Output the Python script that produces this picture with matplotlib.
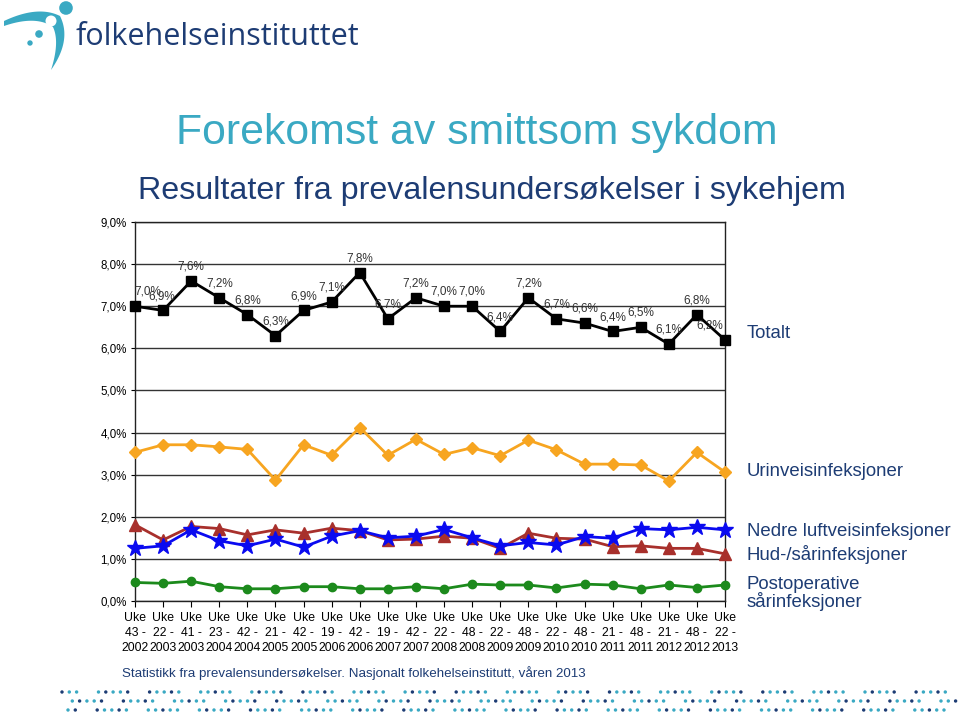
import numpy as np
import matplotlib.pyplot as plt
from matplotlib.patches import Circle, Polygon

plt.rcParams['font.family'] = ['Liberation Sans', 'DejaVu Sans']

weeks = ["43", "22", "41", "23", "42", "21", "42", "19", "42", "19", "42",
         "22", "48", "22", "48", "22", "48", "21", "48", "21", "48", "22"]
years = ["2002", "2003", "2003", "2004", "2004", "2005", "2005", "2006", "2006", "2007", "2007",
         "2008", "2008", "2009", "2009", "2010", "2010", "2011", "2011", "2012", "2012", "2013"]
tick_labels = [f"Uke\n{w} -\n{y}" for w, y in zip(weeks, years)]

totalt = [7.0, 6.9, 7.6, 7.2, 6.8, 6.3, 6.9, 7.1, 7.8, 6.7, 7.2,
          7.0, 7.0, 6.4, 7.2, 6.7, 6.6, 6.4, 6.5, 6.1, 6.8, 6.2]
urinvei = [3.53, 3.71, 3.71, 3.66, 3.60, 2.87, 3.71, 3.46, 4.12, 3.46, 3.84,
           3.48, 3.64, 3.45, 3.82, 3.59, 3.25, 3.25, 3.23, 2.85, 3.53, 3.06]
nedre_luftvei = [1.25, 1.31, 1.69, 1.43, 1.31, 1.47, 1.28, 1.54, 1.67, 1.50, 1.54,
                 1.70, 1.50, 1.31, 1.39, 1.33, 1.53, 1.49, 1.72, 1.69, 1.75, 1.69]
hud_saar = [1.81, 1.45, 1.77, 1.72, 1.57, 1.69, 1.61, 1.73, 1.67, 1.45, 1.47,
            1.54, 1.49, 1.25, 1.61, 1.49, 1.47, 1.29, 1.31, 1.25, 1.25, 1.12]
postop = [0.44, 0.42, 0.47, 0.34, 0.29, 0.29, 0.34, 0.34, 0.29, 0.29, 0.34,
          0.29, 0.40, 0.38, 0.38, 0.31, 0.40, 0.38, 0.29, 0.38, 0.32, 0.38]

navy = '#1d3c74'
teal = '#3aa9c3'

fig = plt.figure(figsize=(9.6, 7.14), dpi=100)

# decoration layer in pixel coordinates
deco = fig.add_axes([0, 0, 1, 1])
deco.set_xlim(0, 960)
deco.set_ylim(714, 0)
deco.axis('off')

# logo swoosh
t = np.linspace(0, 1, 40)
def bez(p0, p1, p2):
    p0, p1, p2 = map(np.array, (p0, p1, p2))
    return ((1 - t)[:, None] ** 2 * p0 + 2 * ((1 - t) * t)[:, None] * p1 + (t ** 2)[:, None] * p2)
outer = np.vstack([bez((4, 21), (38, 5), (60, 16)), bez((60, 16), (72, 40), (51, 70))])
inner = np.vstack([bez((51, 70), (60, 42), (53, 27)), bez((53, 27), (36, 15), (4, 26))])
deco.add_patch(Polygon(np.vstack([outer, inner]), closed=True, color=teal, lw=0))
deco.add_patch(Circle((51, 21), 5.5, color='white', lw=0))
deco.add_patch(Circle((66, 8), 6.8, color=teal, lw=0))
deco.add_patch(Circle((39, 34), 3.8, color=teal, lw=0))
deco.add_patch(Circle((30, 43), 2.7, color=teal, lw=0))
deco.text(76, 37, "folkehelseinstituttet", fontsize=22, color=navy, va='center', ha='left',
          family=['Open Sans', 'DejaVu Sans'])

# dotted band at the bottom
for r, yy in enumerate([692, 701, 710]):
    xs = np.arange(62 + r * 3, 960, 7.3)
    for i, xx in enumerate(xs):
        if (i * 3 + r * 5) % 7 in (2, 5):
            continue
        c = teal if (i + r) % 3 else navy
        deco.add_patch(Circle((xx, yy), 1.7, color=c, lw=0))

fig.text(176 / 960, 1 - 133 / 714, "Forekomst av smittsom sykdom", fontsize=30.8,
         color=teal, va='center', ha='left')
fig.text(138 / 960, 1 - 191 / 714, "Resultater fra prevalensundersøkelser i sykehjem",
         fontsize=23.2, color=navy, va='center', ha='left')
fig.text(122 / 960, 1 - 673 / 714,
         "Statistikk fra prevalensundersøkelser. Nasjonalt folkehelseinstitutt, våren 2013",
         fontsize=9.6, color=navy, va='center', ha='left')

ax = fig.add_axes([135 / 960, 1 - 601 / 714, 590 / 960, 379 / 714])
x = np.arange(len(totalt))
kw = dict(lw=2, clip_on=False, zorder=3)
ax.plot(x, totalt, color='black', marker='s', ms=7, **kw)
ax.plot(x, urinvei, color='#f7a520', marker='D', ms=6, **kw)
ax.plot(x, hud_saar, color='#a8302c', marker='^', ms=8, **kw)
ax.plot(x, nedre_luftvei, color='#0a0af0', marker='*', ms=12, **kw)
ax.plot(x, postop, color='#1c8a1c', marker='o', ms=6, **kw)

for i, v in enumerate(totalt):
    dx = 0
    if i == 0:
        dx = 0.45
    elif i == 1:
        dx = -0.05
    elif i == len(totalt) - 1:
        dx = -0.55
    ax.text(i + dx, v + 0.2, f"{v:.1f}%".replace('.', ','), fontsize=8.5,
            ha='center', va='bottom', color='#333333', zorder=4)

ax.set_xlim(0, len(totalt) - 1)
ax.set_ylim(0, 9)
ax.set_yticks(np.arange(0, 10))
ax.set_yticklabels([f"{v},0%" for v in range(10)], fontsize=8.3)
ax.set_xticks(x)
ax.set_xticklabels(tick_labels, fontsize=8.8, linespacing=1.3)
ax.tick_params(axis='x', direction='out', length=4, pad=4)
ax.tick_params(axis='y', direction='out', length=3, pad=3)
ax.grid(axis='y', color='#333333', lw=1)
ax.set_axisbelow(True)
for s in ax.spines.values():
    s.set_color('#222222')
    s.set_linewidth(1)

labels = [("Totalt", 333), ("Urinveisinfeksjoner", 471), ("Nedre luftveisinfeksjoner", 531),
          ("Hud-/sårinfeksjoner", 554), ("Postoperative\nsårinfeksjoner", 593.5)]
for txt, yy in labels:
    fig.text(747 / 960, 1 - yy / 714, txt, fontsize=13.4, color=navy, va='center', ha='left',
             linespacing=0.9)

fig.savefig('out.png', dpi=100)
